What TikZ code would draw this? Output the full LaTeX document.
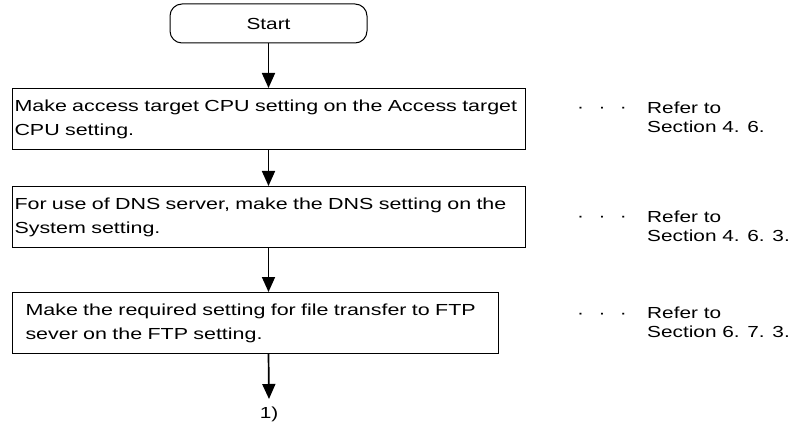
\documentclass[tikz,border=0pt]{standalone}
\usepackage{fontspec}
\setmainfont{Liberation Sans}[FakeStretch=1.3]
\newfontfamily\boxfont{Liberation Sans}[FakeStretch=1.34]
\usepackage{xcolor}
\usepackage{tikz}
\usetikzlibrary{calc, arrows.meta, positioning}

\begin{document}
\begin{tikzpicture}[x=1pt, y=-1pt,
    font=\fontsize{16}{24}\selectfont,
    stepbox/.style={draw, line width=1pt, align=left, inner xsep=2pt,
        minimum height=61pt, anchor=north west,
        font=\boxfont\fontsize{16}{24}\selectfont},
    startbox/.style={draw, line width=1pt, rounded corners=12pt,
        minimum width=197pt, minimum height=39pt},
    arr/.style={line width=1.7pt, -{Triangle[length=15pt, width=13pt]}},
    refdots/.style={inner sep=0pt, anchor=base},
    reftext/.style={align=left, anchor=north west, inner sep=0pt,
        font=\fontsize{16}{19.5}\selectfont}]

    % 1. Khung
    \useasboundingbox (0,0) rectangle (789,430);

    % 2. Start
    \node[startbox] (start) at (268.5,23.5) {Start};

    % 3. Cac buoc
    \node[stepbox, text width=509pt] (box1) at (12,88)
        {Make access target CPU setting on the Access target\\CPU setting.};
    \node[stepbox, text width=509pt] (box2) at (12,186)
        {For use of DNS server, make the DNS setting on the\\System setting.};
    \node[stepbox, inner xsep=13pt, text width=460pt] (box3) at (12,292)
        {Make the required setting for file transfer to FTP\\sever on the FTP setting.};
    \node[inner xsep=0pt, inner ysep=8pt, anchor=north] (endlabel) at (269,399) {1)};

    % 4. Mui ten
    \draw[arr] (start.south) -- (box1.north -| start.south);
    \draw[arr] (box1.south -| start.south) -- (box2.north -| start.south);
    \draw[arr] (box2.south -| start.south) -- (box3.north -| start.south);
    \draw[arr] (box3.south -| start.south) -- (endlabel.north);

    % 5. Tham chieu
    \node[refdots] (dots1) at (602,113) {·\hspace{14.5pt}·\hspace{14.5pt}·};
    \node[reftext] (ref1) at (647,101.3) {Refer to\\Section 4. 6.};
    \node[refdots] (dots2) at (602,222) {·\hspace{14.5pt}·\hspace{14.5pt}·};
    \node[reftext] (ref2) at (647,210.3) {Refer to\\Section 4. 6. 3.};
    \node[refdots] (dots3) at (602,318) {·\hspace{14.5pt}·\hspace{14.5pt}·};
    \node[reftext] (ref3) at (647,306.3) {Refer to\\Section 6. 7. 3.};
\end{tikzpicture}
\end{document}
